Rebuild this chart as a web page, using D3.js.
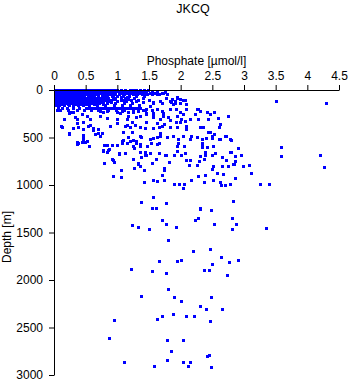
<!DOCTYPE html>
<html>
<head>
<meta charset="utf-8">
<script src="https://cdn.jsdelivr.net/npm/d3@7"></script>
<style>
  html, body { margin: 0; padding: 0; background: #fff; }
  svg { display: block; }
  text { font-family: "Liberation Sans", Arial, Helvetica, sans-serif; fill: #000; }
</style>
</head>
<body>
<script>
// Station profile: phosphate concentration against depth
const chartTitle = "JKCQ";
const xLabel = "Phosphate [µmol/l]";
const yLabel = "Depth [m]";

const phosphateTicks = [0, 0.5, 1, 1.5, 2, 2.5, 3, 3.5, 4, 4.5];
const phosphateTickLabels = ["0", "0.5", "1", "1.5", "2", "2.5", "3", "3.5", "4", "4.5"];
const depthTicks = [0, 500, 1000, 1500, 2000, 2500, 3000];
const depthTickLabels = ["0", "500", "1000", "1500", "2000", "2500", "3000"];

// Near-surface bottles: [depth m, phosphate readings µmol/l]
const surfaceRows = [
  [0,   [0.01,0.04,0.08,0.12,0.16,0.2,0.24,0.28,0.32,0.36,0.4,0.44,0.48,0.52,0.56,0.6,0.64,0.68,0.72,0.76,0.8,0.84,0.88,0.92,0.96,1.0,1.05,1.12,1.2,1.24,1.3,1.36,1.42,1.48]],
  [15,  [0.02,0.06,0.1,0.14,0.18,0.22,0.26,0.3,0.34,0.38,0.42,0.46,0.5,0.54,0.58,0.62,0.66,0.7,0.74,0.78,0.82,0.86,0.9,0.95,1.0,1.04,1.09,1.15,1.21,1.27,1.33,1.4,1.46,1.55,1.62]],
  [30,  [0.01,0.05,0.09,0.13,0.17,0.21,0.25,0.29,0.33,0.37,0.41,0.45,0.49,0.53,0.57,0.61,0.65,0.69,0.73,0.77,0.81,0.86,0.91,0.97,1.02,1.08,1.14,1.2,1.28,1.35,1.44,1.52,1.6,1.7]],
  [45,  [0.02,0.06,0.1,0.14,0.18,0.22,0.26,0.3,0.34,0.38,0.42,0.47,0.52,0.56,0.6,0.64,0.7,0.75,0.8,0.85,0.9,0.96,1.03,1.1,1.18,1.25,1.31,1.39,1.47,1.55,1.65,1.78]],
  [60,  [0.01,0.05,0.09,0.13,0.17,0.21,0.25,0.29,0.33,0.38,0.43,0.48,0.53,0.58,0.63,0.69,0.76,0.84,0.92,1.0,1.09,1.18,1.3,1.42]],
  [70,  [0.03,0.07,0.11,0.16,0.21,0.26,0.31,0.36,0.41,0.47,0.54,0.61,0.7,0.8,0.93,1.05,1.16]],
  [80,  [0.02,0.06,0.1,0.14,0.18,0.23,0.28,0.33,0.38,0.44,0.5,0.57,0.66,0.74,0.85,0.97,1.12,1.26,1.4]],
  [90,  [0.04,0.08,0.12,0.19,0.25,0.3,0.35,0.41,0.46,0.53,0.6,0.69,0.78,0.95,1.17]],
  [100, [0.01,0.05,0.09,0.13,0.17,0.22,0.27,0.32,0.37,0.43,0.5,0.58,0.64,0.72,0.8,0.9,1.06,1.22,1.33,1.5]],
  [110, [0.03,0.08,0.12,0.18,0.24,0.29,0.34,0.4,0.45,0.52,0.6,0.67,0.76,0.86,1.1]],
  [120, [0.02,0.06,0.1,0.15,0.2,0.25,0.31,0.36,0.42,0.48,0.55,0.62,0.7,0.78,0.88,1.0,1.14,1.3]],
  [130, [0.04,0.11,0.18,0.23,0.29,0.37,0.44,0.51,0.57,0.66,0.75,0.9]],
  [140, [0.01,0.05,0.09,0.14,0.2,0.26,0.33,0.4,0.47,0.53,0.6,0.71,0.83,0.97,1.1,1.23]],
  [150, [0.06,0.12,0.22,0.35,0.43,0.5,0.63,0.77]],
  [160, [0.03,0.08,0.16,0.24,0.3,0.38,0.46,0.55,0.68,0.8,0.94,1.07,1.2,1.34]],
  [185, [0.06,0.12,0.2,0.3,0.4,0.5,0.55,0.6,0.64,0.68,0.72,0.76,0.8,0.84,0.88,0.92,0.96,1.0,1.04,1.08,1.12,1.16,1.2,1.24,1.28,1.32,1.36]],
  [215, [0.04,0.1,0.22,0.36,0.47,0.58,0.7,0.85,0.98,1.1,1.25,1.4]]
];

// Individual samples: [phosphate µmol/l, depth m]
const upperSamples = [
  [3.50,114],[4.29,142],
  [1.75,23],[1.86,93],[1.91,111],[1.99,93],[1.94,76],[1.88,146],[1.67,111],[1.57,129],[1.51,164],[1.46,198],
  [1.41,129],[1.62,198],[1.70,216],[1.83,198],[1.93,198],[2.09,146],[2.25,198],[2.30,216],[2.04,251],[1.99,234],
  [2.22,251],[2.15,304],[2.28,304],[2.43,304],[2.41,234],[2.01,304],[1.93,340],[2.07,322],[1.80,287],[1.72,269],
  [1.67,304],[1.46,251],[1.57,287],[1.44,403],[1.57,403],[1.65,392],[1.70,375],[1.83,392],[1.94,392],[2.09,409],
  [2.30,392],[2.35,392],[2.43,445],[2.49,480],[2.62,515],[2.70,480],[2.78,515],[2.33,515],[2.25,498],[2.17,480],
  [2.15,515],[2.03,480],[1.96,515],[1.88,480],[1.67,480],[1.62,498],[1.51,515],[1.38,498],[1.62,568],[1.96,557],
  [2.33,557],[2.75,269],[2.59,293],[2.52,227],[2.47,251],[2.28,198],[2.08,198],[2.03,100],[2.07,100],[1.94,82],
  [1.85,129],[2.62,357],[2.60,392],[2.46,441],[2.53,459],[2.71,487],[2.61,515],[2.49,504],[2.40,504],[2.33,575],
  [2.79,525],[1.62,37],[1.72,30],[1.77,82],[1.70,135],[1.57,135],[1.54,206],[1.72,241],[1.57,248],[1.91,135],
  [1.83,118],[1.99,135],[2.04,100],
  [0.07,206],[0.15,304],[0.11,382],[0.23,452],[0.24,241],[0.36,346],[0.38,557],[0.45,540],[0.55,593],[0.46,469],
  [0.57,364],[0.62,417],[0.70,452],[0.75,452],[0.83,575],[1.15,557],[1.24,522],[1.30,540],[1.53,557],[1.65,557],
  [1.57,504],[1.67,452],[1.79,498],[1.94,593],[2.05,593],[1.45,241],[1.36,276],[1.57,241],[1.62,346],[1.74,353],
  [1.83,311],[1.94,276],[1.99,340],[2.09,382],[1.15,364],[1.00,346],[0.88,382],[0.83,293],[0.73,276],[1.04,241],
  [1.17,269],
  [0.37,568],[0.44,546],[0.49,546],[0.79,575],[0.84,575],[0.92,582],[1.00,575],[1.08,557],[1.09,522],[1.20,540],
  [1.25,585],[1.29,557],[1.35,585],[1.47,585],
  [0.25,234],[0.30,227],[0.33,287],[0.36,304],[0.44,251],[0.52,276],[0.57,304],[0.46,340],[0.73,216],[0.78,234],
  [0.83,216],[0.99,234],[1.07,216],[1.17,227],[1.25,234],[1.33,216],[1.44,206],[0.99,304],[1.15,304],[1.30,287],
  [1.23,340],[1.46,340],[0.12,392],[0.30,403],[0.38,392],[0.46,409],[0.54,375],[0.62,403],[0.70,409],[1.12,375],
  [1.20,392],[1.28,367],[1.36,392],[0.23,462],[0.46,480],[0.65,462],[0.73,480],[1.09,445],[1.23,445],[1.17,498],
  [1.36,480],[0.36,551],[0.46,515],[0.52,533],[1.07,533],[1.20,533],[1.36,568]
];

const intermediateSamples = [
  [2.90,614],[2.79,649],[3.59,698],[4.20,684],[2.86,691],[2.95,684],[2.86,747],[2.84,775],[2.98,800],[3.08,789],
  [4.27,807],[3.11,874],[2.86,926],[2.78,990],[3.25,986],[3.39,994],[3.58,599],
  [2.33,603],[2.42,599],[2.51,589],[2.54,663],[2.66,705],[2.72,736],[2.78,649],[2.83,783],[2.74,797],[2.65,797],
  [2.51,804],[2.49,831],[2.58,878],[2.67,884],[2.51,947],[2.62,968],[2.64,997],[2.70,1000],[2.37,968],[2.27,909],
  [2.39,891],[2.16,947],[2.06,990],[2.04,1032],[1.98,990],[1.90,990],[1.74,947],[1.70,899],[1.56,944],[1.63,955],
  [2.13,789],[2.25,789],[2.15,733],[2.29,747],[2.31,698],[2.39,688],[2.37,723],[2.49,688],[2.39,656],[2.07,663],
  [2.01,684],[1.90,688],[1.76,684],[1.61,726],[1.55,765],[1.73,821],[1.81,762],[1.65,659],
  [0.78,646],[0.79,768],[0.86,628],[0.93,733],[0.93,909],[1.02,663],[1.06,839],[1.05,916],[1.12,663],[1.27,610],
  [1.33,768],[1.36,656],[1.42,839],[1.44,680],[1.51,663],[1.74,839],[1.77,680],[1.81,754],[1.94,646],[2.09,733],
  [0.83,652],[0.87,617],[1.03,670],[1.44,652],[1.46,680],[1.38,702],[1.24,723],[0.92,726],[0.94,758],[1.32,775],
  [1.35,797],[1.27,818],[1.06,842],[0.93,902],[1.06,916],[1.42,968],[0.78,635]
];

const deepSamples = [
  [1.57,1124],[1.38,1180],[1.55,1243],[1.61,1240],[1.77,1190],[2.82,1169],[2.30,1253],[2.31,1243],[2.48,1261],
  [1.71,1369],[1.77,1412],[1.23,1422],[1.33,1443],[1.50,1464],[1.92,1443],[2.22,1369],[2.28,1352],[2.52,1412],
  [2.81,1345],[2.87,1412],[2.81,1464],[3.34,1454],[1.80,1580],[2.20,1696],[2.47,1672],[2.64,1760],[2.91,1788],
  [2.76,1812],[2.50,1830],[1.66,1799],[1.94,1796],[2.01,1791],[1.22,1886],[1.55,1904],[1.77,1929],[2.37,1897],
  [2.45,1897],[2.73,1950],[1.80,2097],[1.38,2165],[1.90,2175],[2.48,2182],[2.01,2224],[2.31,2277],[2.40,2308],
  [2.65,2302],[0.95,2424],[1.62,2414],[1.71,2382],[1.88,2361],[2.09,2382],[2.21,2382],[2.47,2435],[0.87,2614],
  [1.79,2632],[2.03,2635],[1.85,2751],[2.41,2804],[2.45,2794],[1.11,2861],[1.58,2907],[1.79,2846],[2.04,2868],
  [2.15,2868],[2.12,2910],[2.48,2920]
];

const samples = surfaceRows
  .flatMap(([d, ps]) => ps.map(p => [p, d]))
  .concat(upperSamples, intermediateSamples, deepSamples);

const width = 350, height = 384;
const plot = { left: 54, right: 339, top: 90, bottom: 375 };

const svg = d3.select("body").append("svg")
  .attr("width", width)
  .attr("height", height);

const x = d3.scaleLinear().domain([0, 4.5]).range([plot.left, plot.right]);
const y = d3.scaleLinear().domain([0, 3000]).range([plot.top, plot.bottom]);

// sample markers
svg.append("g")
  .attr("fill", "#0000ff")
  .attr("shape-rendering", "crispEdges")
  .selectAll("rect")
  .data(samples)
  .join("rect")
  .attr("x", d => x(d[0]) - 1)
  .attr("y", d => y(d[1]) - 1)
  .attr("width", 3)
  .attr("height", 3);

// phosphate axis along the top
const xAxis = svg.append("g")
  .attr("transform", `translate(0,${plot.top})`)
  .call(d3.axisTop(x)
    .tickValues(phosphateTicks)
    .tickFormat((d, i) => phosphateTickLabels[i])
    .tickSize(5)
    .tickSizeOuter(0)
    .tickPadding(5));

// depth axis on the left, increasing downward
const yAxis = svg.append("g")
  .attr("transform", `translate(${plot.left},0)`)
  .call(d3.axisLeft(y)
    .tickValues(depthTicks)
    .tickFormat((d, i) => depthTickLabels[i])
    .tickSize(5)
    .tickSizeOuter(0)
    .tickPadding(6));

[xAxis, yAxis].forEach(g => {
  g.selectAll("path, line").attr("stroke", "#000").attr("stroke-width", 1);
  g.selectAll("text")
    .attr("font-family", "'Liberation Sans', Arial, sans-serif")
    .attr("font-size", 12)
    .attr("fill", "#000");
});

svg.append("text")
  .attr("x", 193)
  .attr("y", 12.5)
  .attr("text-anchor", "middle")
  .attr("font-size", 12.5)
  .text(chartTitle);

svg.append("text")
  .attr("x", (plot.left + plot.right) / 2)
  .attr("y", 65)
  .attr("text-anchor", "middle")
  .attr("font-size", 12)
  .text(xLabel);

svg.append("text")
  .attr("transform", `translate(11,237) rotate(-90)`)
  .attr("text-anchor", "middle")
  .attr("font-size", 12)
  .text(yLabel);
</script>
</body>
</html>
